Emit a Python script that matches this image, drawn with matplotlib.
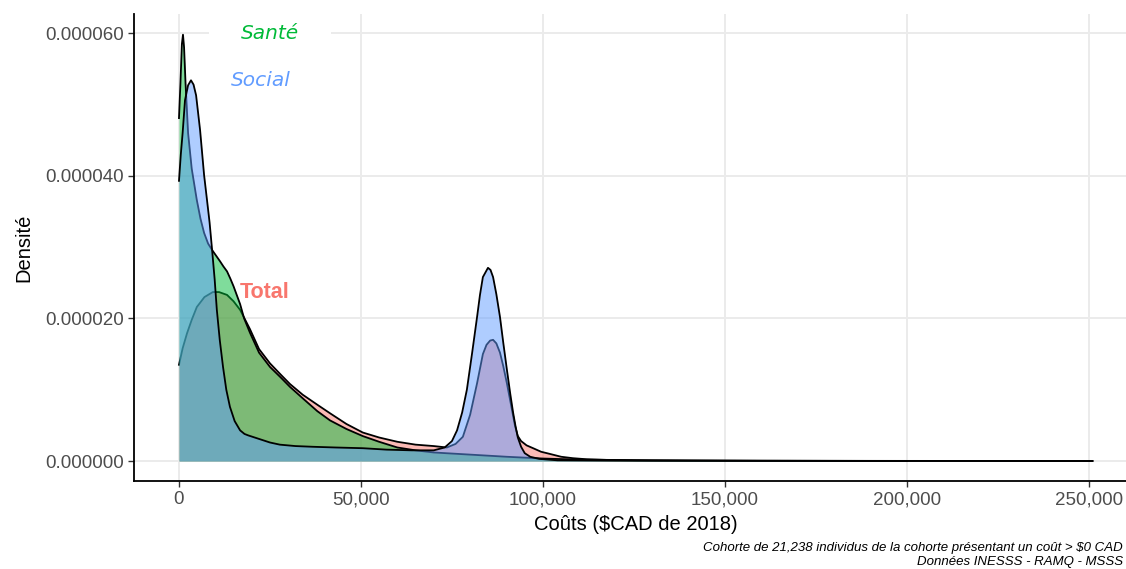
import matplotlib
matplotlib.use("Agg")
import matplotlib.pyplot as plt
from matplotlib.ticker import FuncFormatter, FixedLocator

# ---------------- data (density values in units of 1e-5) ----------------
UNIT = 1e-5

total_x = [0, 1000, 2200, 3500, 4900, 7000, 9300, 11000, 13200, 15000, 16800, 19500,
           22000, 25000, 28000, 30500, 34000, 38000, 41500, 46000, 50500, 55000, 60000,
           65000, 70000, 73600, 76000, 78000, 80000, 81900, 83500, 84500, 85500, 86300,
           87200, 88200, 89100, 90100, 91000, 92300, 93100, 94000, 95500, 97300, 99500,
           101900, 105000, 108200, 112000, 118000, 125000, 140000, 160000, 200000, 251000]
total_y = [1.35, 1.58, 1.79, 1.98, 2.16, 2.30, 2.37, 2.37, 2.33, 2.24, 2.12, 1.85,
           1.57, 1.37, 1.21, 1.08, 0.93, 0.79, 0.67, 0.52, 0.40, 0.33, 0.27,
           0.23, 0.21, 0.19, 0.24, 0.34, 0.65, 1.09, 1.50, 1.63, 1.69, 1.70,
           1.65, 1.52, 1.33, 1.09, 0.85, 0.50, 0.35, 0.28, 0.22, 0.18, 0.13,
           0.10, 0.06, 0.04, 0.025, 0.015, 0.010, 0.006, 0.004, 0.002, 0.001]

sante_x = [0, 400, 800, 1100, 1400, 1800, 2500, 3500, 4900, 5900, 6900, 8000, 9100,
           10200, 11300, 12200, 13200, 14100, 15000, 16800, 17900, 19500, 22000, 25000,
           28000, 30500, 34000, 38000, 41500, 46000, 50500, 55000, 60000, 65000, 70000,
           80000, 90000, 100000, 110000, 130000, 160000, 200000]
sante_y = [4.81, 5.30, 5.85, 5.98, 5.80, 5.30, 4.60, 4.10, 3.66, 3.40, 3.20, 3.05, 2.96,
           2.88, 2.80, 2.73, 2.66, 2.56, 2.45, 2.20, 2.00, 1.80, 1.52, 1.32,
           1.17, 1.04, 0.88, 0.70, 0.57, 0.45, 0.35, 0.27, 0.19, 0.15, 0.12,
           0.09, 0.06, 0.035, 0.02, 0.01, 0.004, 0.001]

social_x = [0, 500, 1000, 1650, 2500, 3300, 4000, 4700, 5800, 6900, 7700, 8400, 9100,
            9800, 10400, 11200, 12100, 13000, 14000, 15300, 16800, 18000, 19000, 21400,
            25000, 27700, 32000, 36800, 43000, 50500, 57000, 64000, 70000, 73000, 75000,
            76400, 77800, 79100, 80500, 81900, 82700, 83500, 84900, 85600, 86300, 87200,
            88200, 89100, 90100, 91000, 91800, 92500, 93100, 94000, 95000, 96500, 99000,
            104000, 120000, 150000, 200000, 251000]
social_y = [3.93, 4.30, 4.60, 5.06, 5.27, 5.34, 5.28, 5.13, 4.64, 4.01, 3.66, 3.35, 2.96,
            2.55, 2.12, 1.70, 1.32, 1.00, 0.76, 0.56, 0.43, 0.38, 0.36, 0.32,
            0.26, 0.23, 0.21, 0.20, 0.19, 0.18, 0.16, 0.15, 0.15, 0.19, 0.28,
            0.43, 0.68, 1.00, 1.50, 2.02, 2.33, 2.58, 2.71, 2.68, 2.58, 2.34,
            2.02, 1.66, 1.28, 0.95, 0.68, 0.48, 0.33, 0.20, 0.11, 0.06, 0.03,
            0.01, 0.005, 0.003, 0.001, 0.0]

series_names = ["Total", "Santé", "Social"]
series_colors = ["#F8766D", "#00BA38", "#619CFF"]

label_x = [23600, 25000, 22500]
label_y = [2.37, 6.00, 5.34]

x_ticks = [0, 50000, 100000, 150000, 200000, 250000]
y_ticks = [0.0, 2.0, 4.0, 6.0]

caption = ("Cohorte de 21,238 individus de la cohorte présentant un coût > $0 CAD\n"
           "Données INESSS - RAMQ - MSSS")

# ---------------- figure ----------------
W, H = 1126, 569
fig = plt.figure(figsize=(W / 100, H / 100), dpi=100)
ax = fig.add_axes([134 / W, (H - 481) / H, (1138 - 134) / W, (481 - 14) / H])

ax.set_xlim(-12360, 263500)
ax.set_ylim(-2.80e-6, 6.27e-5)

for v in x_ticks:
    ax.axvline(v, color="#EBEBEB", lw=1.4, zorder=0)
for v in y_ticks:
    ax.axhline(v * UNIT, color="#EBEBEB", lw=1.4, zorder=0)

series = [(total_x, total_y), (sante_x, sante_y), (social_x, social_y)]
for i, ((xs, ys), col) in enumerate(zip(series, series_colors)):
    yy = [v * UNIT for v in ys]
    ax.fill_between(xs, 0, yy, color=col, alpha=0.5, lw=0, zorder=2 + i * 2)
    ax.plot(xs, yy, color="black", lw=1.3, zorder=2 + i * 2 + 1,
            solid_joinstyle="round")

# labels
ax.text(label_x[0], label_y[0] * UNIT, series_names[0], color=series_colors[0],
        fontsize=15.5, fontweight="bold", family="Liberation Sans",
        ha="center", va="center", zorder=20)
ax.text(label_x[1], label_y[1] * UNIT, series_names[1], color=series_colors[1],
        fontsize=14.5, style="italic", family="DejaVu Sans",
        ha="center", va="center", zorder=20,
        bbox=dict(boxstyle="square,pad=1.6", fc="white", ec="none"))
ax.text(label_x[2], label_y[2] * UNIT, series_names[2], color=series_colors[2],
        fontsize=14.5, style="italic", family="DejaVu Sans",
        ha="center", va="center", zorder=20)

# axes styling
for s in ["top", "right"]:
    ax.spines[s].set_visible(False)
for s in ["left", "bottom"]:
    ax.spines[s].set_linewidth(1.3)
    ax.spines[s].set_color("black")

ax.xaxis.set_major_locator(FixedLocator(x_ticks))
ax.yaxis.set_major_locator(FixedLocator([v * UNIT for v in y_ticks]))
ax.xaxis.set_major_formatter(FuncFormatter(lambda v, p: f"{int(round(v)):,}"))
ax.yaxis.set_major_formatter(FuncFormatter(lambda v, p: f"{v:.6f}"))
ax.tick_params(axis="both", length=4, width=1.0, color="#333333",
               labelcolor="#4D4D4D", labelsize=13.5)
for lab in ax.get_xticklabels() + ax.get_yticklabels():
    lab.set_family("Liberation Sans")

ax.set_xlabel("Coûts ($CAD de 2018)", fontsize=14.5, family="Liberation Sans",
              labelpad=5)
ax.set_ylabel("Densité", fontsize=14.5, family="Liberation Sans", labelpad=8)

fig.text(1123 / W, 1 - 542 / H, caption, ha="right", va="top", fontsize=9.5,
         style="italic", family="Liberation Sans", linespacing=1.25)

fig.savefig("out.png", dpi=100)
